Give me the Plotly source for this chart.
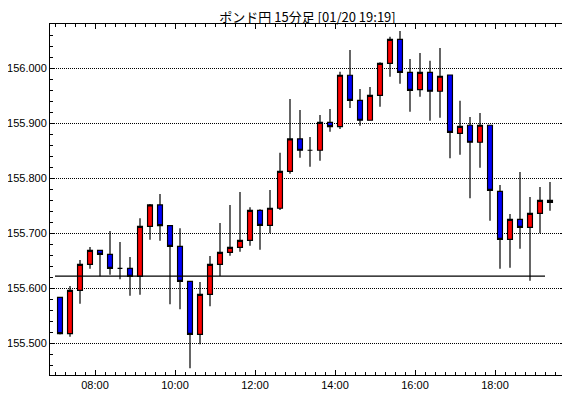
import pandas as pd
import plotly.graph_objects as go

title_text = "ポンド円 15分足 [01/20 19:19]"
start_time = "2025-01-20 07:00"
n_bars = 50

open_ = [155.5836, 155.5175, 155.5964, 155.6436, 155.6691, 155.6618, 155.6364, 155.6364, 155.6218, 155.7127,
         155.7515, 155.7138, 155.6764, 155.6127, 155.5164, 155.5891, 155.6436, 155.6655, 155.6745, 155.6873,
         155.7418, 155.7145, 155.7455, 155.8127, 155.8715, 155.8510, 155.8510, 155.9018, 155.8938, 155.9873,
         155.9418, 155.9055, 155.9509, 156.0091, 156.0527, 155.9927, 155.9611, 155.9927, 155.9582, 155.9878,
         155.8818, 155.8964, 155.8655, 155.8964, 155.7764, 155.6891, 155.7255, 155.7109, 155.7364, 155.7600]
close = [155.5175, 155.5964, 155.6436, 155.6691, 155.6618, 155.6364, 155.6364, 155.6218, 155.7127, 155.7515,
         155.7138, 155.6764, 155.6127, 155.5164, 155.5891, 155.6436, 155.6655, 155.6745, 155.6873, 155.7418,
         155.7145, 155.7455, 155.8127, 155.8715, 155.8510, 155.8510, 155.9018, 155.8938, 155.9873, 155.9418,
         155.9055, 155.9509, 156.0091, 156.0527, 155.9927, 155.9600, 155.9927, 155.9582, 155.9855, 155.8836,
         155.8945, 155.8655, 155.8964, 155.7782, 155.6891, 155.7255, 155.7109, 155.7364, 155.7600, 155.7564]
high = [155.5840, 155.6042, 155.6515, 155.6751, 155.6691, 155.7042, 155.6842, 155.6569, 155.7273, 155.7533,
        155.7715, 155.7138, 155.7091, 155.6127, 155.6115, 155.6587, 155.7187, 155.7515, 155.7751, 155.7473,
        155.7436, 155.7787, 155.8465, 155.9442, 155.9242, 155.8751, 155.9151, 155.9260, 155.9938, 156.0333,
        155.9624, 155.9660, 156.0109, 156.0575, 156.0678, 156.0169, 156.0278, 156.0138, 156.0369, 155.9878,
        155.9411, 155.9115, 155.9187, 155.8964, 155.7878, 155.7351, 155.8115, 155.7660, 155.7842, 155.7933]
low = [155.5160, 155.5120, 155.5720, 155.6356, 155.6218, 155.6247, 155.6164, 155.5865, 155.5884, 155.6884,
       155.6865, 155.5709, 155.5618, 155.4545, 155.4982, 155.5673, 155.6224, 155.6593, 155.6665, 155.6775,
       155.6702, 155.7000, 155.7424, 155.8084, 155.8375, 155.8211, 155.8320, 155.8847, 155.8896, 155.9278,
       155.8956, 155.9055, 155.9302, 155.9847, 155.9720, 155.9211, 155.9484, 155.9047, 155.9102, 155.8364,
       155.8429, 155.7636, 155.8193, 155.7229, 155.6356, 155.6375, 155.6720, 155.6138, 155.7000, 155.7411]
ref_price = 155.622

y_ticks = [155.5, 155.6, 155.7, 155.8, 155.9, 156.0]
y_tick_labels = ["155.500", "155.600", "155.700", "155.800", "155.900", "156.000"]
x_tick_hours = ["08:00", "10:00", "12:00", "14:00", "16:00", "18:00"]

times = pd.date_range(start_time, periods=n_bars, freq="15min")
day = "2025-01-20 "
x_tickvals = [day + h for h in x_tick_hours]

fig = go.Figure()
fig.add_trace(go.Candlestick(
    x=times, open=open_, high=high, low=low, close=close,
    xperiod=15 * 60 * 1000, xperiodalignment="middle",
    increasing=dict(fillcolor="#ff0000", line=dict(color="black", width=1.2)),
    decreasing=dict(fillcolor="#0000ff", line=dict(color="black", width=1.2)),
    whiskerwidth=0, showlegend=False))
fig.add_trace(go.Scatter(
    x=[times[0], times[-1]], y=[ref_price, ref_price], mode="lines",
    line=dict(color="black", width=1.3), hoverinfo="skip", showlegend=False))

fig.update_layout(
    width=562, height=390,
    margin=dict(l=42, r=5, t=16, b=23),
    paper_bgcolor="white", plot_bgcolor="white",
    title=dict(text=title_text, x=0.533, xanchor="center", xref="container",
               y=0.977, yanchor="middle", yref="container",
               font=dict(family="Noto Sans CJK JP", size=13, color="black")),
    font=dict(family="Liberation Sans", size=11, color="black"),
    showlegend=False,
)
fig.update_xaxes(
    type="date", rangeslider_visible=False, automargin=False,
    range=[day + "06:52:30", day + "19:45"],
    tickvals=x_tickvals, ticktext=x_tick_hours,
    ticks="inside", ticklen=5, tickcolor="black",
    showline=True, linecolor="black", linewidth=1, mirror="allticks",
    showgrid=False, zeroline=False,
    minor=dict(ticks="inside", ticklen=3, dtick=15 * 60 * 1000, tick0=day + "07:00", tickcolor="black", showgrid=False),
)
fig.update_yaxes(
    range=[155.4424, 156.0805], automargin=False,
    tickvals=y_ticks, ticktext=y_tick_labels,
    ticks="inside", ticklen=4, tickcolor="black",
    showline=True, linecolor="black", linewidth=1, mirror="allticks",
    showgrid=True, gridcolor="black", griddash="1px,1px", gridwidth=1, zeroline=False,
    minor=dict(ticks="inside", ticklen=3, dtick=0.02, tick0=155.5, tickcolor="black", showgrid=False),
)

fig.write_html("out.html", config={"displayModeBar": False})
